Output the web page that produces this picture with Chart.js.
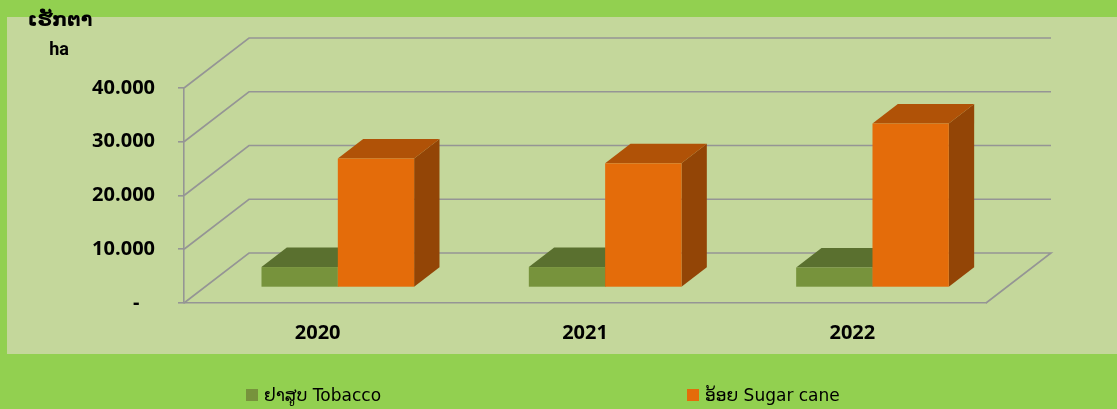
<!DOCTYPE html>
<html>
<head>
<meta charset="utf-8">
<script src="https://cdn.jsdelivr.net/npm/chart.js@4.4.1/dist/chart.umd.min.js"></script>
<style>
  html, body { margin: 0; padding: 0; background: #92D050; }
</style>
</head>
<body>
<canvas id="areaChart" width="1117" height="409"></canvas>
<script>
const years = ['2020', '2021', '2022'];
const tobacco = [3800, 3800, 3700];
const sugarCane = [24000, 23100, 30500];
const yTicks = [0, 10000, 20000, 30000, 40000];
const seriesNames = ['ຢາສູບ Tobacco', 'ອ້ອຍ Sugar cane'];
const unitTitle = ['ເຮັກຕາ', 'ha'];

// 3d look: offset of the back wall, and where the bars sit in depth
const depth = { dx: 65, dy: -50 };
const barFront = 0.31;
const barDepth = 0.39;
const lineColor = '#959595';

const fmt = v => String(v).replace(/\B(?=(\d{3})+(?!\d))/g, '.');

function poly(c, pts) {
  c.beginPath();
  c.moveTo(pts[0][0], pts[0][1]);
  pts.slice(1).forEach(p => c.lineTo(p[0], p[1]));
  c.closePath();
  c.fill();
}

const box3d = {
  id: 'box3d',
  beforeDraw(chart) {
    const c = chart.ctx;
    c.save();
    c.fillStyle = '#92D050';
    c.fillRect(0, 0, chart.width, chart.height);
    c.fillStyle = '#C4D79B';
    c.fillRect(7, 17, chart.width - 7, 337);
    c.restore();
  },
  beforeDatasetsDraw(chart) {
    const c = chart.ctx, a = chart.chartArea, y = chart.scales.y;
    c.save();
    // side wall + back wall lines
    c.strokeStyle = lineColor;
    c.lineWidth = 1.6;
    yTicks.forEach(v => {
      const py = y.getPixelForValue(v);
      c.beginPath();
      c.moveTo(a.left, py);
      c.lineTo(a.left + depth.dx, py + depth.dy);
      c.lineTo(a.right + depth.dx, py + depth.dy);
      if (v === 0) c.lineTo(a.right, py);
      c.stroke();
    });
    // bars as boxes
    chart.data.datasets.forEach((ds, di) => {
      const meta = chart.getDatasetMeta(di);
      meta.data.forEach(bar => {
        const ox = barFront * depth.dx, oy = barFront * depth.dy;
        const ddx = barDepth * depth.dx, ddy = barDepth * depth.dy;
        const l = bar.x - bar.width / 2 + ox, r = bar.x + bar.width / 2 + ox;
        const t = bar.y + oy, b = bar.base + oy;
        c.fillStyle = ds.sideColor;
        poly(c, [[r, t], [r + ddx, t + ddy], [r + ddx, b + ddy], [r, b]]);
        c.fillStyle = ds.topColor;
        poly(c, [[l, t], [l + ddx, t + ddy], [r + ddx, t + ddy], [r, t]]);
        c.fillStyle = ds.backgroundColor;
        c.fillRect(l, t, r - l, b - t);
      });
    });
    c.restore();
    return false;
  },
  afterDraw(chart) {
    const c = chart.ctx;
    c.save();
    c.fillStyle = '#000';
    c.textAlign = 'center';
    c.textBaseline = 'alphabetic';
    c.font = 'bold 19px "DejaVu Sans"';
    c.fillText(unitTitle[0], 60, 26);
    c.font = 'bold 18px Roboto';
    c.fillText(unitTitle[1], 59, 55);
    // legend
    c.textAlign = 'left';
    c.font = '17px "DejaVu Sans"';
    const spots = [246, 687];
    chart.data.datasets.forEach((ds, i) => {
      c.fillStyle = ds.backgroundColor;
      c.fillRect(spots[i], 389, 12, 12);
      c.fillStyle = '#000';
      c.fillText(seriesNames[i], spots[i] + 18, 401);
    });
    c.restore();
  }
};

const ctx = document.getElementById('areaChart').getContext('2d');
const areaChart = new Chart(ctx, {
  type: 'bar',
  data: {
    labels: years,
    datasets: [
      {
        label: seriesNames[0],
        data: tobacco,
        backgroundColor: '#77933C',
        topColor: '#5A702F',
        sideColor: '#4B5E27'
      },
      {
        label: seriesNames[1],
        data: sugarCane,
        backgroundColor: '#E46C0A',
        topColor: '#B05207',
        sideColor: '#934506'
      }
    ]
  },
  options: {
    responsive: false,
    animation: false,
    layout: { padding: { top: 88, right: 131, bottom: 0, left: 0 } },
    datasets: { bar: { categoryPercentage: 0.571, barPercentage: 1 } },
    plugins: {
      legend: { display: false },
      tooltip: { enabled: false }
    },
    scales: {
      x: {
        afterFit(s) { s.height = 106; },
        grid: { display: false },
        border: { color: lineColor, width: 1.6 },
        ticks: {
          padding: 10,
          color: '#000',
          font: { family: 'Open Sans', weight: 'bold', size: 20 }
        }
      },
      y: {
        min: 0,
        max: 40000,
        afterFit(s) { s.width = 184; },
        afterBuildTicks(s) { s.ticks = yTicks.map(v => ({ value: v })); },
        grid: { drawOnChartArea: false, tickLength: 6, color: lineColor, lineWidth: 1.6 },
        border: { color: lineColor, width: 1.6 },
        ticks: {
          padding: 23,
          color: '#000',
          font: { family: 'Open Sans', weight: 'bold', size: 20 },
          callback: v => v === 0 ? '-   ' : fmt(v)
        }
      }
    }
  },
  plugins: [box3d]
});
</script>
</body>
</html>
